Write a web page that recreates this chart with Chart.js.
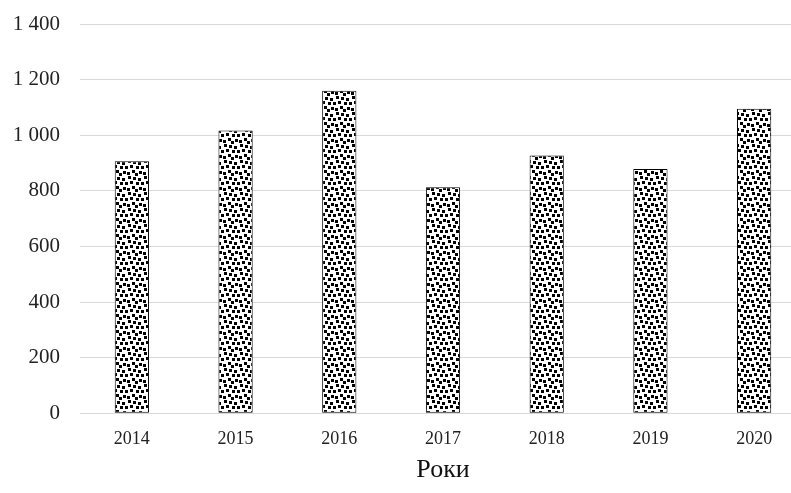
<!DOCTYPE html>
<html>
<head>
<meta charset="utf-8">
<script src="https://cdn.jsdelivr.net/npm/chart.js@4/dist/chart.umd.min.js"></script>
<style>
  html, body { margin: 0; padding: 0; background: #fff; overflow: hidden; }
  #wrap { position: relative; width: 806px; height: 493px; }
</style>
</head>
<body>
<div id="wrap"><canvas id="chart"></canvas></div>
<script>
const years = ['2014', '2015', '2016', '2017', '2018', '2019', '2020'];
const values = [906, 1017, 1160, 813, 927, 878, 1095];
const yTicks = [0, 200, 400, 600, 800, 1000, 1200, 1400];
const xTitle = 'Роки';

// Confetti fill: black squares scattered irregularly on white, 16x16 tile
function confetti() {
  const c = document.createElement('canvas');
  c.width = 16; c.height = 16;
  const g = c.getContext('2d');
  g.fillStyle = '#fff';
  g.fillRect(0, 0, 16, 16);
  g.fillStyle = '#000';
  const dots = [[0, 0], [5, 1], [10, 2], [2, 5], [8, 6], [13, 6],
                [4, 10], [11, 11], [15, 12], [7, 13]];
  dots.forEach(([x, y]) => {
    for (let dx = 0; dx < 3; dx++) {
      for (let dy = 0; dy < 3; dy++) {
        g.fillRect((x + dx) % 16, (y + dy) % 16, 1, 1);
      }
    }
  });
  return g.createPattern(c, 'repeat');
}

const fmt = v => String(v).replace(/\B(?=(\d{3})+(?!\d))/g, ' ');

new Chart(document.getElementById('chart'), {
  type: 'bar',
  data: {
    labels: years,
    datasets: [{
      data: values,
      backgroundColor: confetti(),
      borderColor: '#000',
      borderWidth: 1,
      borderSkipped: false,
      barPercentage: 0.33,
      categoryPercentage: 1
    }]
  },
  options: {
    responsive: true,
    maintainAspectRatio: false,
    animation: false,
    layout: { padding: { top: 24, left: 0, right: 0, bottom: 7 } },
    plugins: { legend: { display: false }, tooltip: { enabled: false } },
    scales: {
      x: {
        grid: { display: false, drawTicks: false },
        border: { color: '#d9d9d9', width: 1 },
        ticks: { color: '#222', font: { family: 'Liberation Serif', size: 18 }, padding: 15 },
        title: {
          display: true, text: xTitle, color: '#111',
          font: { family: 'Liberation Serif', size: 26 }, padding: { top: -10, bottom: 0 }
        }
      },
      y: {
        min: 0, max: 1400,
        afterFit: s => { s.width = 80; s.paddingTop = 0; s.paddingBottom = 0; },
        afterBuildTicks: s => { s.ticks = yTicks.map(v => ({ value: v })); },
        grid: { color: '#d9d9d9', drawTicks: false },
        border: { display: false },
        ticks: {
          color: '#222', font: { family: 'Liberation Serif', size: 21 }, padding: 20,
          callback: v => fmt(v)
        }
      }
    }
  }
});
</script>
</body>
</html>
